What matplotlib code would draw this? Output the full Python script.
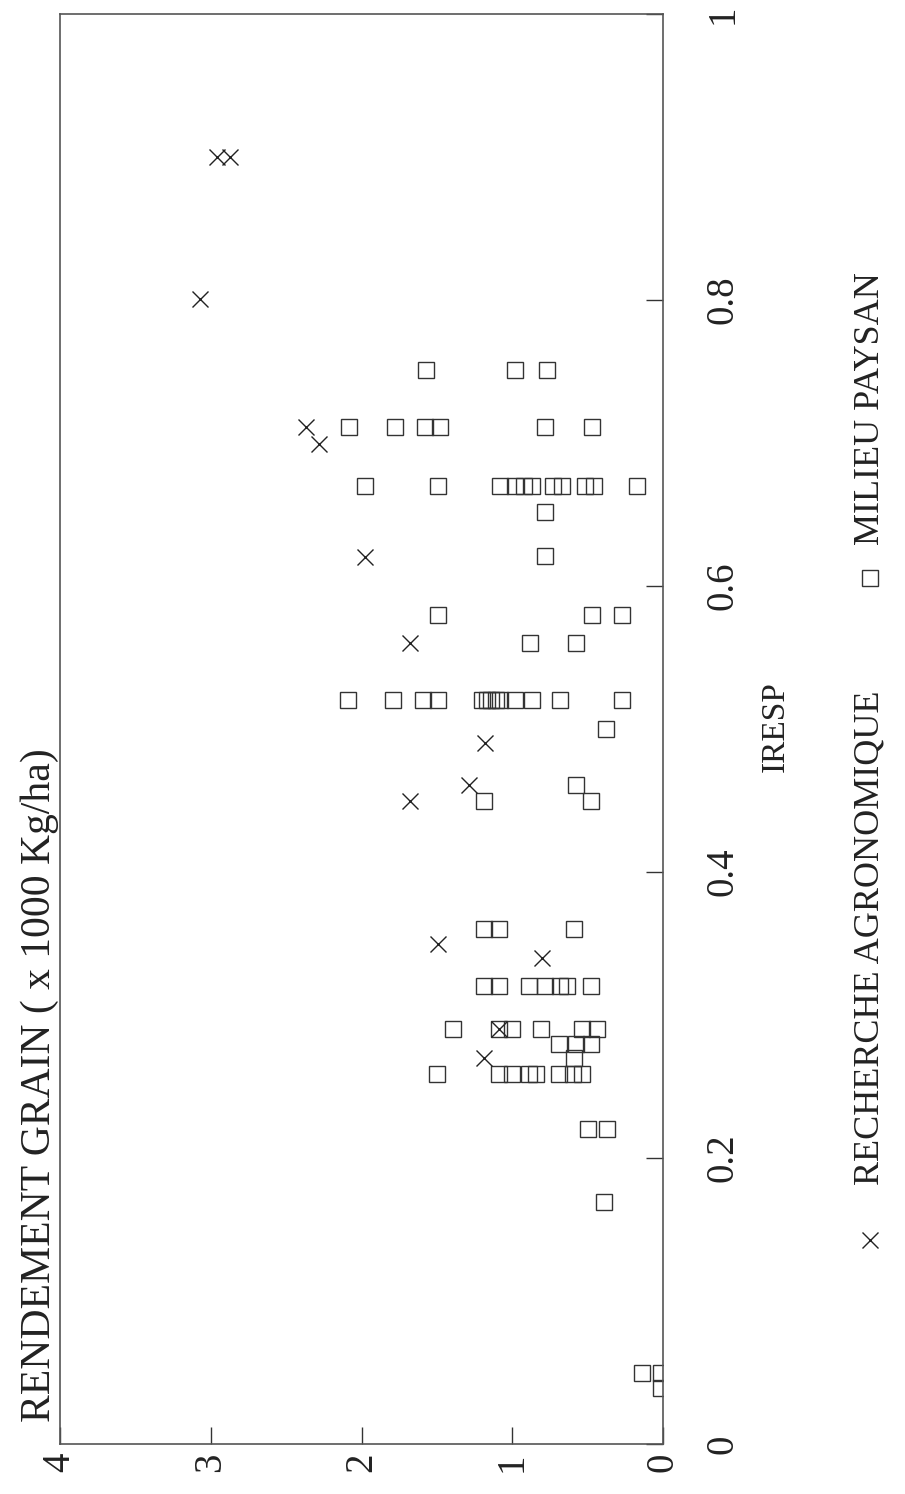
import matplotlib
matplotlib.use("Agg")
import matplotlib.pyplot as plt

plt.rcParams['font.family'] = ['Liberation Serif', 'DejaVu Serif']

# Recherche agronomique (crosses): IRESP, rendement (x1000 kg/ha)
rech_iresp = [0.900, 0.900, 0.801, 0.711, 0.699, 0.620, 0.560, 0.490, 0.461,
              0.450, 0.350, 0.340, 0.290, 0.270]
rech_rend = [2.96, 2.87, 3.07, 2.37, 2.28, 1.98, 1.68, 1.18, 1.29,
             1.68, 1.49, 0.80, 1.09, 1.19]

# Milieu paysan (squares)
pays_iresp = ([0.751] * 3 + [0.711] * 6 + [0.670] * 11 + [0.652] + [0.621]
              + [0.580] * 3 + [0.560] * 2 + [0.520] * 13 + [0.500] + [0.461]
              + [0.450] * 2 + [0.360] * 3 + [0.320] * 7 + [0.290] * 6
              + [0.280] * 3 + [0.270] + [0.259] * 8 + [0.220] * 2 + [0.169]
              + [0.050] * 2 + [0.039])
pays_rend = ([1.57, 0.98, 0.77]
             + [2.08, 1.78, 1.58, 1.48, 0.78, 0.47]
             + [1.98, 1.49, 1.08, 0.98, 0.92, 0.87, 0.73, 0.67, 0.52, 0.46, 0.17]
             + [0.78]
             + [0.78]
             + [1.49, 0.47, 0.27]
             + [0.88, 0.58]
             + [2.09, 1.79, 1.59, 1.49, 1.20, 1.17, 1.14, 1.11, 1.08, 0.98, 0.87, 0.68, 0.27]
             + [0.38]
             + [0.58]
             + [1.19, 0.48]
             + [1.19, 1.09, 0.59]
             + [1.19, 1.09, 0.89, 0.78, 0.68, 0.64, 0.48]
             + [1.39, 1.09, 1.00, 0.81, 0.54, 0.44]
             + [0.69, 0.58, 0.48]
             + [0.59]
             + [1.50, 1.09, 1.00, 0.89, 0.84, 0.69, 0.60, 0.54]
             + [0.50, 0.37]
             + [0.39]
             + [0.14, 0.01]
             + [0.01])

rend_ticks = [0, 1, 2, 3, 4]
iresp_ticks = [0, 0.2, 0.4, 0.6, 0.8, 1]
iresp_labels = ['0', '0.2', '0.4', '0.6', '0.8', '1']

W, H = 905, 1494
fig = plt.figure(figsize=(W / 100, H / 100), dpi=100)
ax = fig.add_axes([60 / W, (H - 1444) / H, 603 / W, 1430 / H])

col = '#333333'
ax.plot(pays_rend, pays_iresp, linestyle='none', marker='s', markersize=12,
        markerfacecolor='none', markeredgecolor=col, markeredgewidth=1.0)
ax.plot(rech_rend, rech_iresp, linestyle='none', marker='x', markersize=11,
        color='#222222', markeredgewidth=1.0)

ax.set_xlim(4, 0)
ax.set_ylim(0, 1)
ax.yaxis.tick_right()
ax.set_xticks(rend_ticks)
ax.set_xticklabels([str(t) for t in rend_ticks], rotation=90)
ax.set_yticks(iresp_ticks)
ax.set_yticklabels(iresp_labels, rotation=90, va='center')
ax.tick_params(axis='x', direction='in', length=12, width=1.0, colors=col,
               labelsize=28, pad=6, top=False)
ax.tick_params(axis='y', direction='in', length=12, width=1.0, colors=col,
               labelsize=28, pad=30, left=False)
for lab in ax.get_xticklabels() + ax.get_yticklabels():
    lab.set_color('#222222')
for s in ax.spines.values():
    s.set_color('#555555')
    s.set_linewidth(1.2)

# Axis titles (rotated figure)
fig.text(40 / W, (H - 1422) / H, 'RENDEMENT GRAIN ( x 1000 Kg/ha)', rotation=90,
         ha='center', va='bottom', fontsize=30, color='#222222')
fig.text(775 / W, (H - 727) / H, 'IRESP', rotation=90, ha='center', va='center',
         fontsize=24, color='#222222')

# Legend
fig.lines.append(plt.Line2D([870 / W], [(H - 1240) / H], transform=fig.transFigure,
                            marker='x', markersize=11, color='#222222',
                            markeredgewidth=1.0, linestyle='none'))
fig.text(870 / W, (H - 1185) / H, 'RECHERCHE AGRONOMIQUE', rotation=90,
         ha='center', va='bottom', fontsize=26, color='#222222')
fig.lines.append(plt.Line2D([870 / W], [(H - 578) / H], transform=fig.transFigure,
                            marker='s', markersize=11, markerfacecolor='none',
                            markeredgecolor=col, markeredgewidth=1.0,
                            linestyle='none'))
fig.text(870 / W, (H - 545) / H, 'MILIEU PAYSAN', rotation=90,
         ha='center', va='bottom', fontsize=26, color='#222222')

fig.savefig('out.png', dpi=100)
